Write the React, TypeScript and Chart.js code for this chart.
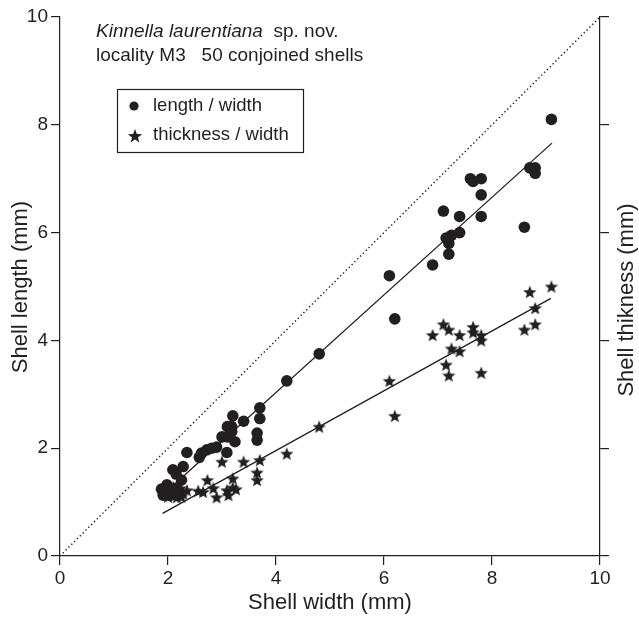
import React, { useEffect, useRef } from 'react';
import { Chart, registerables } from 'chart.js';

Chart.register(...registerables);

const INK = '#231f20';
const FONT = '"Liberation Sans", Arial, Helvetica, sans-serif';

// Tick values (both axes 0..10 step 2)
const axisMin = 0;
const axisMax = 10;
const tickStep = 2;

// length / width (circles)
const lengthWidthX = [
  9.1, 8.7, 8.8, 8.8, 7.6, 7.65, 7.8, 7.8, 7.1, 7.4,
  7.8, 8.6, 7.4, 7.25, 7.15, 7.2, 7.2, 6.9, 6.1, 6.2,
  4.8, 4.2, 3.7, 3.7, 3.65, 3.65, 3.2, 3.4, 3.1, 3.18,
  3.18, 3.0, 3.1, 3.24, 2.9, 2.81, 2.72, 2.62, 2.58, 2.35,
  3.09, 2.28, 2.09, 2.15, 2.25, 1.98, 1.88, 2.01, 2.07, 1.91,
  2.04, 2.16,
];
const lengthValues = [
  8.1, 7.2, 7.2, 7.1, 7.0, 6.95, 7.0, 6.7, 6.4, 6.3,
  6.3, 6.1, 6.0, 5.95, 5.9, 5.8, 5.6, 5.4, 5.2, 4.4,
  3.75, 3.25, 2.75, 2.55, 2.28, 2.15, 2.6, 2.5, 2.4, 2.4,
  2.31, 2.21, 2.21, 2.12, 2.02, 2.0, 1.97, 1.91, 1.83, 1.92,
  1.92, 1.66, 1.6, 1.52, 1.41, 1.32, 1.24, 1.21, 1.24, 1.13,
  1.13, 1.16,
];

// thickness / width (stars)
const thickWidthX = [
  9.1, 8.7, 8.8, 8.6, 8.8, 7.1, 7.2, 6.9, 7.4, 7.65,
  7.65, 7.8, 7.8, 7.25, 7.4, 7.15, 7.2, 7.8, 6.1, 6.2,
  4.8, 4.2, 3.7, 3.65, 3.65, 3.0, 3.4, 2.73, 3.2, 3.2,
  3.26, 3.09, 3.12, 2.84, 2.9, 2.56, 2.65, 2.35, 2.28, 2.22,
  2.19, 2.05, 1.95, 2.12, 2.0, 2.16, 1.9, 2.1, 1.98, 2.25,
];
const thickValues = [
  5.0, 4.9, 4.6, 4.2, 4.3, 4.3, 4.2, 4.1, 4.1, 4.25,
  4.15, 4.1, 4.0, 3.85, 3.8, 3.55, 3.35, 3.4, 3.25, 2.6,
  2.4, 1.9, 1.78, 1.55, 1.41, 1.75, 1.75, 1.41, 1.44, 1.27,
  1.24, 1.22, 1.13, 1.26, 1.09, 1.21, 1.19, 1.22, 1.16, 1.26,
  1.32, 1.22, 1.16, 1.13, 1.1, 1.09, 1.19, 1.28, 1.25, 1.1,
];

// fitted lines and 1:1 reference
const lengthFitX = [1.94, 9.11];
const lengthFitY = [1.17, 7.66];
const thickFitX = [1.9, 9.09];
const thickFitY = [0.79, 4.78];
const refX = [0, 10];
const refY = [0, 10];

const titleItalic = 'Kinnella laurentiana';
const titleRest = '  sp. nov.';
const titleLine2 = 'locality M3   50 conjoined shells';
const legendLabels = ['length / width', 'thickness / width'];
const xTitle = 'Shell width (mm)';
const yTitle = 'Shell length (mm)';
const y2Title = 'Shell thikness (mm)';

function starPath(ctx: CanvasRenderingContext2D, cx: number, cy: number, R: number, r: number) {
  ctx.beginPath();
  for (let i = 0; i < 10; i++) {
    const rad = i % 2 === 0 ? R : r;
    const a = -Math.PI / 2 + (i * Math.PI) / 5;
    const px = cx + rad * Math.cos(a);
    const py = cy + rad * Math.sin(a);
    if (i === 0) ctx.moveTo(px, py);
    else ctx.lineTo(px, py);
  }
  ctx.closePath();
}

function makeStar(R: number, r: number) {
  const c = document.createElement('canvas');
  const s = Math.ceil(R * 2 + 2);
  c.width = s;
  c.height = s;
  const ctx = c.getContext('2d')!;
  ctx.fillStyle = INK;
  starPath(ctx, s / 2, s / 2 + R * 0.1, R, r);
  ctx.fill();
  return c;
}

const pts = (xs: number[], ys: number[]) => xs.map((x, i) => ({ x, y: ys[i] }));

export default function App() {
  const ref = useRef<HTMLCanvasElement>(null);

  useEffect(() => {
    if (!ref.current) return;
    const star = makeStar(7, 3);

    const textPlugin = {
      id: 'texts',
      afterDraw(chart: any) {
        const ctx = chart.ctx as CanvasRenderingContext2D;
        ctx.save();
        ctx.fillStyle = INK;
        ctx.textBaseline = 'alphabetic';
        ctx.textAlign = 'left';
        // title
        ctx.font = `italic 19px ${FONT}`;
        ctx.fillText(titleItalic, 96, 37);
        const w = ctx.measureText(titleItalic).width;
        ctx.font = `19px ${FONT}`;
        ctx.fillText(titleRest, 96 + w, 37);
        ctx.fillText(titleLine2, 96, 61);

        // legend
        ctx.strokeStyle = INK;
        ctx.lineWidth = 1.2;
        ctx.strokeRect(117.5, 89.5, 186, 63);
        ctx.beginPath();
        ctx.arc(134, 106, 4.6, 0, Math.PI * 2);
        ctx.fill();
        starPath(ctx, 135, 136.5, 7.5, 3.1);
        ctx.fill();
        ctx.font = `18.5px ${FONT}`;
        ctx.textBaseline = 'middle';
        ctx.fillText(legendLabels[0], 153, 106);
        ctx.fillText(legendLabels[1], 153, 135);

        // axis titles
        ctx.font = `22px ${FONT}`;
        ctx.textAlign = 'center';
        ctx.fillText(xTitle, 330, 603);
        ctx.save();
        ctx.translate(21, 287);
        ctx.rotate(-Math.PI / 2);
        ctx.fillText(yTitle, 0, 0);
        ctx.restore();
        ctx.save();
        ctx.translate(627, 300);
        ctx.rotate(-Math.PI / 2);
        ctx.fillText(y2Title, 0, 0);
        ctx.restore();
        ctx.restore();
      },
    };

    const tickFont = { family: FONT, size: 19 };
    const grid = {
      drawOnChartArea: false,
      drawTicks: true,
      tickLength: 9,
      color: INK,
      lineWidth: 1.2,
    };
    const border = { color: INK, width: 1.2 };

    const chart = new Chart(ref.current, {
      type: 'scatter',
      data: {
        datasets: [
          {
            label: 'ref',
            data: pts(refX, refY),
            showLine: true,
            borderColor: INK,
            borderWidth: 1.4,
            borderDash: [1.4, 2.6],
            pointRadius: 0,
          } as any,
          {
            label: 'length fit',
            data: pts(lengthFitX, lengthFitY),
            showLine: true,
            borderColor: INK,
            borderWidth: 1.3,
            pointRadius: 0,
          } as any,
          {
            label: 'thickness fit',
            data: pts(thickFitX, thickFitY),
            showLine: true,
            borderColor: INK,
            borderWidth: 1.3,
            pointRadius: 0,
          } as any,
          {
            label: legendLabels[0],
            data: pts(lengthWidthX, lengthValues),
            pointStyle: 'circle',
            pointRadius: 5.8,
            backgroundColor: INK,
            borderWidth: 0,
          },
          {
            label: legendLabels[1],
            data: pts(thickWidthX, thickValues),
            pointStyle: star,
            pointRadius: 7,
            backgroundColor: INK,
            borderWidth: 0,
          } as any,
        ],
      },
      options: {
        animation: false,
        responsive: false,
        events: [],
        layout: { padding: { top: 17, left: 0, right: 0, bottom: 0 } },
        plugins: { legend: { display: false }, tooltip: { enabled: false } },
        scales: {
          x: {
            type: 'linear',
            min: axisMin,
            max: axisMax,
            ticks: { stepSize: tickStep, color: INK, font: tickFont, padding: 2, maxRotation: 0 },
            grid,
            border,
            afterFit: (s: any) => {
              s.height = 61;
            },
          },
          y: {
            type: 'linear',
            position: 'left',
            min: axisMin,
            max: axisMax,
            ticks: { stepSize: tickStep, color: INK, font: tickFont, padding: 3 },
            grid,
            border,
            afterFit: (s: any) => {
              s.width = 60;
            },
          },
          y2: {
            type: 'linear',
            position: 'right',
            min: axisMin,
            max: axisMax,
            ticks: { stepSize: tickStep, callback: () => '', font: tickFont },
            grid,
            border,
            afterFit: (s: any) => {
              s.width = 39;
            },
          },
        },
      } as any,
      plugins: [textPlugin],
    });
    return () => chart.destroy();
  }, []);

  return (
    <div style={{ position: 'fixed', left: 0, top: 0, width: 639, height: 617, background: '#fff' }}>
      <canvas ref={ref} width={639} height={617} style={{ width: 639, height: 617, display: 'block' }} />
    </div>
  );
}
